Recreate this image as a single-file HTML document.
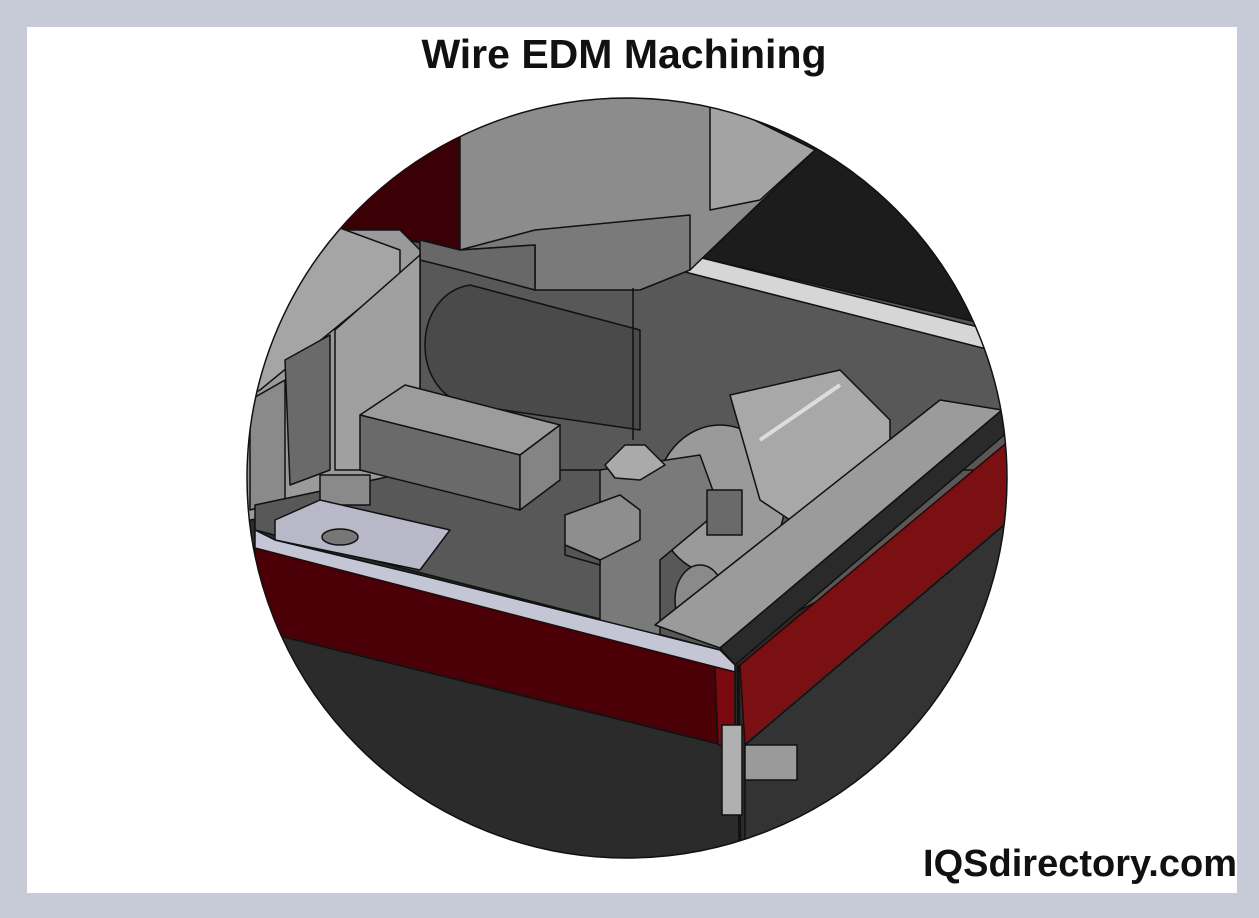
<!DOCTYPE html>
<html><head><meta charset="utf-8"><style>
html,body{margin:0;padding:0;}
body{width:1259px;height:918px;background:#c6cbd7;position:relative;overflow:hidden;font-family:"Liberation Sans",sans-serif;}
.inner{position:absolute;left:27px;top:27px;width:1210px;height:866px;background:#fff;}
.t{position:absolute;left:0;width:1248px;top:31px;text-align:center;font-weight:bold;font-size:41px;color:#111;}
.l{position:absolute;right:22px;top:843px;font-weight:bold;font-size:38px;color:#111;}
svg{position:absolute;left:0;top:0;}
</style></head><body>
<div class="inner"></div>
<div class="t">Wire EDM Machining</div>
<svg width="1259" height="918" viewBox="0 0 1259 918">
<defs><clipPath id="c"><circle cx="627" cy="478" r="380"/></clipPath></defs>
<g clip-path="url(#c)" stroke="#111" stroke-width="1.5" stroke-linejoin="round">
<rect x="240" y="90" width="780" height="780" fill="#2b2b2b" stroke="none"/>
<polygon points="400,230 1010,230 1010,560 400,560" fill="#585858"/>
<polygon points="700,98 1010,98 1010,330 690,255" fill="#1c1c1c"/>
<polygon points="690,255 1010,335 1010,355 685,272" fill="#d6d6d6"/>
<polygon points="300,98 460,98 460,250 340,228 300,220" fill="#3a0006"/>
<polygon points="460,98 710,98 815,150 690,270 460,250" fill="#8c8c8c"/>
<polygon points="710,98 815,150 760,200 710,210" fill="#a3a3a3"/>
<polygon points="460,250 535,245 535,290 640,290 690,270 690,215 535,230 460,250" fill="#7a7a7a"/>
<polygon points="420,240 460,250 535,245 535,290 460,270 420,260" fill="#686868"/>
<polygon points="240,230 400,230 420,250 420,490 250,520 240,520" fill="#9a9a9a"/>
<polygon points="340,228 400,250 400,275 260,390 250,395 250,300" fill="#a5a5a5"/>
<polygon points="285,360 330,335 330,470 290,485" fill="#6a6a6a"/>
<polygon points="335,330 420,255 420,470 335,470" fill="#a0a0a0"/>
<polygon points="250,400 285,380 285,500 250,510" fill="#8a8a8a"/>
<path d="M470,285 L640,330 L640,430 L470,405 C410,395 410,295 470,285 Z" fill="#4a4a4a"/>
<line x1="633" y1="288" x2="633" y2="440" stroke-width="1.5"/>
<polygon points="255,505 420,470 980,470 980,520 720,650 255,530" fill="#585858"/>
<polygon points="360,415 405,385 560,425 520,455" fill="#9c9c9c"/>
<polygon points="360,415 520,455 520,510 360,470" fill="#6a6a6a"/>
<polygon points="520,455 560,425 560,480 520,510" fill="#848484"/>
<rect x="320" y="475" width="50" height="30" fill="#8a8a8a"/>
<polygon points="275,520 320,500 450,530 420,570 275,540" fill="#b8b8c8"/>
<ellipse cx="340" cy="537" rx="18" ry="8" fill="#777"/>
<ellipse cx="720" cy="500" rx="65" ry="75" fill="#9a9a9a"/>
<polygon points="730,395 840,370 890,420 890,470 790,520 760,500" fill="#a8a8a8"/>
<line x1="760" y1="440" x2="840" y2="385" stroke="#ddd" stroke-width="4"/>
<polygon points="600,470 700,455 720,510 660,560 660,635 600,635" fill="#7a7a7a"/>
<polygon points="565,515 620,495 640,510 640,540 600,560 565,545" fill="#8e8e8e"/>
<polygon points="565,545 600,560 600,565 565,555" fill="#555"/>
<polygon points="605,465 625,445 645,445 665,465 640,480 615,478" fill="#aaa"/>
<rect x="707" y="490" width="35" height="45" fill="#6a6a6a"/>
<ellipse cx="700" cy="600" rx="25" ry="35" fill="#8a8a8a"/>
<polygon points="655,625 940,400 1002,410 720,648" fill="#9b9b9b"/>
<polygon points="720,648 1002,410 1010,430 735,665" fill="#2a2a2a"/>
<polygon points="255,530 275,540 420,575 720,650 735,665 735,675 255,550" fill="#c4c6d6"/>
<polygon points="255,548 735,672 735,748 255,630" fill="#4a0006"/>
<polygon points="715,667 735,672 735,748 718,745" fill="#7a0a10"/>
<polygon points="740,665 1010,440 1010,520 745,745" fill="#7a1012"/>
<polygon points="745,745 1010,520 1010,870 745,870" fill="#333"/>
<line x1="738" y1="665" x2="740" y2="870" stroke-width="3"/>
<rect x="722" y="725" width="20" height="90" fill="#b0b0b0"/>
<rect x="745" y="745" width="52" height="35" fill="#9a9a9a"/>
</g>
<circle cx="627" cy="478" r="380" fill="none" stroke="#111" stroke-width="1.5"/>
</svg>
<div class="l">IQSdirectory.com</div>
</body></html>
